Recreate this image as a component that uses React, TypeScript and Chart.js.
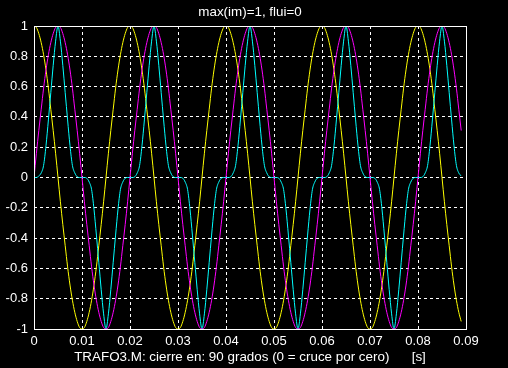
import React, { useEffect, useRef } from "react";
import { Chart, registerables } from "chart.js";

Chart.register(...registerables);

// ---- text ----
const TITLE = "max(im)=1, flui=0";
const X_LABEL = "TRAFO3.M: cierre en: 90 grados (0 = cruce por cero)      [s]";

// ---- ticks ----
const X_TICKS = [0, 0.01, 0.02, 0.03, 0.04, 0.05, 0.06, 0.07, 0.08, 0.09];
const X_TICK_LABELS = ["0", "0.01", "0.02", "0.03", "0.04", "0.05", "0.06", "0.07", "0.08", "0.09"];
const Y_TICKS = [-1, -0.8, -0.6, -0.4, -0.2, 0, 0.2, 0.4, 0.6, 0.8, 1];
const Y_TICK_LABELS = ["-1", "-0.8", "-0.6", "-0.4", "-0.2", "0", "0.2", "0.4", "0.6", "0.8", "1"];

// ---- sampling grid (time, s) ----
const T_START = 0;
const T_STEP = 0.0005;

// ---- series ----
// yellow: voltage
const U = [
  1, .99, .95, .89, .81, .71, .59, .45, .31, .16, 0, -.16, -.31, -.45, -.59, -.71, -.81, -.89, -.95, -.99,
  -1, -.99, -.95, -.89, -.81, -.71, -.59, -.45, -.31, -.16, 0, .16, .31, .45, .59, .71, .81, .89, .95, .99,
  1, .99, .95, .89, .81, .71, .59, .45, .31, .16, 0, -.16, -.31, -.45, -.59, -.71, -.81, -.89, -.95, -.99,
  -1, -.99, -.95, -.89, -.81, -.71, -.59, -.45, -.31, -.16, 0, .16, .31, .45, .59, .71, .81, .89, .95, .99,
  1, .99, .95, .89, .81, .71, .59, .45, .31, .16, 0, -.16, -.31, -.45, -.59, -.71, -.81, -.89, -.95, -.99,
  -1, -.99, -.95, -.89, -.81, -.71, -.59, -.45, -.31, -.16, 0, .16, .31, .45, .59, .71, .81, .89, .95, .99,
  1, .99, .95, .89, .81, .71, .59, .45, .31, .16, 0, -.16, -.31, -.45, -.59, -.71, -.81, -.89, -.95, -.99,
  -1, -.99, -.95, -.89, -.81, -.71, -.59, -.45, -.31, -.16, 0, .16, .31, .45, .59, .71, .81, .89, .95, .99,
  1, .99, .95, .89, .81, .71, .59, .45, .31, .16, 0, -.16, -.31, -.45, -.59, -.71, -.81, -.89, -.95,
];
// magenta: flux
const FLUX = [
  0, .16, .31, .45, .59, .71, .81, .89, .95, .99, 1, .99, .95, .89, .81, .71, .59, .45, .31, .16,
  0, -.16, -.31, -.45, -.59, -.71, -.81, -.89, -.95, -.99, -1, -.99, -.95, -.89, -.81, -.71, -.59, -.45, -.31, -.16,
  0, .16, .31, .45, .59, .71, .81, .89, .95, .99, 1, .99, .95, .89, .81, .71, .59, .45, .31, .16,
  0, -.16, -.31, -.45, -.59, -.71, -.81, -.89, -.95, -.99, -1, -.99, -.95, -.89, -.81, -.71, -.59, -.45, -.31, -.16,
  0, .16, .31, .45, .59, .71, .81, .89, .95, .99, 1, .99, .95, .89, .81, .71, .59, .45, .31, .16,
  0, -.16, -.31, -.45, -.59, -.71, -.81, -.89, -.95, -.99, -1, -.99, -.95, -.89, -.81, -.71, -.59, -.45, -.31, -.16,
  0, .16, .31, .45, .59, .71, .81, .89, .95, .99, 1, .99, .95, .89, .81, .71, .59, .45, .31, .16,
  0, -.16, -.31, -.45, -.59, -.71, -.81, -.89, -.95, -.99, -1, -.99, -.95, -.89, -.81, -.71, -.59, -.45, -.31, -.16,
  0, .16, .31, .45, .59, .71, .81, .89, .95, .99, 1, .99, .95, .89, .81, .71, .59, .45, .31,
];
// cyan: magnetizing current
const IM = [
  0, 0, .01, .03, .08, .21, .38, .56, .74, .9, 1, .9, .74, .56, .38, .21, .08, .03, .005, 0,
  0, 0, -.005, -.03, -.08, -.21, -.38, -.56, -.74, -.9, -1, -.9, -.74, -.56, -.38, -.21, -.08, -.03, -.005, 0,
  0, 0, .005, .03, .08, .21, .38, .56, .74, .9, 1, .9, .74, .56, .38, .21, .08, .03, .005, 0,
  0, 0, -.005, -.03, -.08, -.21, -.38, -.56, -.74, -.9, -1, -.9, -.74, -.56, -.38, -.21, -.08, -.03, -.005, 0,
  0, 0, .005, .03, .08, .21, .38, .56, .74, .9, 1, .9, .74, .56, .38, .21, .08, .03, .005, 0,
  0, 0, -.005, -.03, -.08, -.21, -.38, -.56, -.74, -.9, -1, -.9, -.74, -.56, -.38, -.21, -.08, -.03, -.005, 0,
  0, 0, .005, .03, .08, .21, .38, .56, .74, .9, 1, .9, .74, .56, .38, .21, .08, .03, .005, 0,
  0, 0, -.005, -.03, -.08, -.21, -.38, -.56, -.74, -.9, -1, -.9, -.74, -.56, -.38, -.21, -.08, -.03, -.005, 0,
  0, 0, .005, .03, .08, .21, .38, .56, .74, .9, 1, .9, .74, .56, .38, .21, .08, .03, .01,
];

const FAMILY = "'Liberation Sans', Arial, Helvetica, sans-serif";
const TICK_FONT = { family: FAMILY, size: 13 };
const TITLE_FONT = { family: FAMILY, size: 13.4 };

const toPoints = (vals: number[]) => vals.map((v, i) => ({ x: T_START + i * T_STEP, y: v }));

const boxPlugin = {
  id: "box",
  afterDatasetsDraw(chart: any) {
    const { ctx, chartArea: a } = chart;
    ctx.save();
    ctx.setLineDash([]);
    ctx.strokeStyle = "#ffffff";
    ctx.lineWidth = 1;
    ctx.strokeRect(Math.round(a.left) + 0.5, Math.round(a.top) + 0.5, Math.round(a.right - a.left), Math.round(a.bottom - a.top));
    ctx.restore();
  },
};

export default function App() {
  const ref = useRef<HTMLCanvasElement | null>(null);

  useEffect(() => {
    document.body.style.margin = "0";
    document.body.style.background = "#000";
    if (!ref.current) return;
    const line = (label: string, data: number[], color: string, order: number) => ({
      label,
      data: toPoints(data),
      borderColor: color,
      backgroundColor: color,
      borderWidth: 1,
      pointRadius: 0,
      fill: false,
      cubicInterpolationMode: "monotone" as const,
      order,
    });
    const chart = new Chart(ref.current, {
      type: "line",
      data: {
        datasets: [
          line("u", U, "#ffff00", 2),
          line("im", IM, "#00ffff", 1),
          line("flujo", FLUX, "#ff00ff", 0),
        ],
      },
      plugins: [boxPlugin],
      options: {
        animation: false,
        responsive: false,
        events: [],
        layout: { padding: { left: 0, right: 42, top: 0, bottom: 0 } },
        plugins: { legend: { display: false }, tooltip: { enabled: false }, title: { display: false } },
        scales: {
          x: {
            type: "linear",
            position: "bottom",
            min: 0,
            max: 0.09,
            afterBuildTicks: (s: any) => { s.ticks = X_TICKS.map((v) => ({ value: v })); },
            afterFit: (s: any) => { s.height = 39; },
            ticks: {
              color: "#ffffff",
              font: TICK_FONT,
              padding: 5,
              maxRotation: 0,
              autoSkip: false,
              callback: (_v: any, i: number) => X_TICK_LABELS[i],
            },
            grid: { color: "#ffffff", lineWidth: 1, drawTicks: false },
            border: { display: false, dash: [3, 3] },
            title: { display: true, text: X_LABEL, color: "#ffffff", font: TITLE_FONT, padding: { top: 0, bottom: 3 } },
          },
          x2: {
            type: "linear",
            axis: "x",
            position: "top",
            min: 0,
            max: 1,
            afterFit: (s: any) => { s.height = 26; },
            ticks: { display: false },
            grid: { display: false, drawTicks: false },
            border: { display: false },
            title: { display: true, text: TITLE, color: "#ffffff", font: TITLE_FONT, padding: { top: 4, bottom: 0 } },
          },
          y: {
            type: "linear",
            min: -1,
            max: 1,
            afterBuildTicks: (s: any) => { s.ticks = Y_TICKS.map((v) => ({ value: v })); },
            afterFit: (s: any) => { s.width = 34; },
            ticks: {
              color: "#ffffff",
              font: TICK_FONT,
              padding: 6,
              autoSkip: false,
              callback: (_v: any, i: number) => Y_TICK_LABELS[i],
            },
            grid: { color: "#ffffff", lineWidth: 1, drawTicks: false },
            border: { display: false, dash: [3, 3] },
          },
        },
      },
    } as any);
    return () => chart.destroy();
  }, []);

  return (
    <div style={{ width: 508, height: 368, background: "#000", position: "absolute", left: 0, top: 0 }}>
      <canvas ref={ref} width={508} height={368} style={{ display: "block" }} />
    </div>
  );
}
